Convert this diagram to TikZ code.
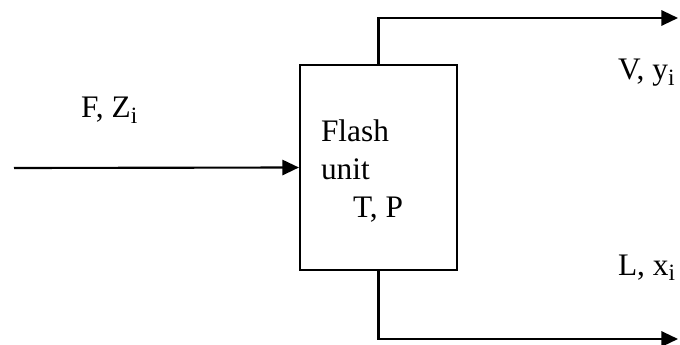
\documentclass[tikz,border=0pt]{standalone}
\usepackage{fontspec}
\setmainfont{Liberation Serif}
\usetikzlibrary{arrows.meta}
\newcommand{\lowsub}[1]{\raisebox{-0.35ex}{\fontsize{17.5}{17.5}\selectfont #1}}

\begin{document}
\begin{tikzpicture}[
    x=0.75pt, y=-0.75pt,
    unitbox/.style={draw, line width=1.6pt, minimum width=117.75pt, minimum height=153.75pt, inner sep=0pt},
    lbl/.style={anchor=base west, inner sep=0pt},
    >={Triangle[length=12.5pt, width=11.5pt]},
    line width=1.6pt,
    font=\fontsize{23.5}{28}\selectfont
]
    \useasboundingbox (0,0) rectangle (680,345);

    % 闪蒸单元
    \node[unitbox] (unit) at (378.5,167.5) {};
    \node[lbl] (flash) at (320,142) {Flash};
    \node[lbl] (unitname) at (320,180) {unit};
    \node[lbl] (tp) at (352,217) {T, P};

    % 端点
    \coordinate (feed) at (14,168);
    \coordinate (vout) at (678,18);
    \coordinate (lout) at (678,339);

    % 进料与出料
    \draw[->] (feed) -- (unit.west);
    \draw[->] (unit.north) |- (vout);
    \draw[->] (unit.south) |- (lout);

    % 标签
    \node[lbl] (fz) at (80,118) {F, Z\lowsub{i}};
    \node[lbl] (vy) at (617,80) {V, y\lowsub{i}};
    \node[lbl] (lx) at (617,275) {L, x\lowsub{i}};

\end{tikzpicture}
\end{document}
